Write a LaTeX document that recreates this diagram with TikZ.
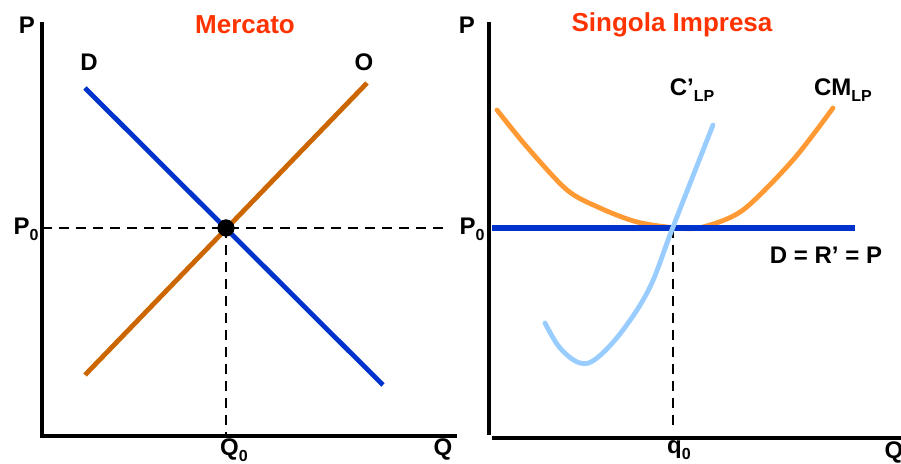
\documentclass[tikz,border=0pt]{standalone}
\usepackage{fontspec}
\setmainfont{Liberation Sans}
\definecolor{titlered}{RGB}{255,51,0}
\definecolor{dblue}{RGB}{0,51,204}
\definecolor{obrown}{RGB}{204,102,0}
\definecolor{cmorange}{RGB}{255,153,51}
\definecolor{mclight}{RGB}{153,204,255}
\newcommand{\lowsub}[1]{\raisebox{-0.45ex}{\fontsize{8}{8}\selectfont #1}}
\begin{document}
\begin{tikzpicture}[
    x=0.5pt, y=-0.5pt,
    axis/.style={line width=1.7pt},
    guide/.style={line width=1.4pt, dash pattern=on 5pt off 3.5pt},
    curve/.style={line width=2.4pt},
    lbl/.style={font=\fontsize{12}{14}\selectfont\bfseries, inner sep=0pt},
    title/.style={font=\fontsize{13}{15}\selectfont\bfseries, text=titlered, inner sep=0pt},
    dot/.style={circle, fill=black, minimum size=8.5pt, inner sep=0pt}
]
\useasboundingbox (0,0) rectangle (901,464);

% ---- mercato ----
\coordinate (ltop) at (42,22);
\coordinate (lorig) at (42,436);
\coordinate (lend) at (457,436);
\coordinate (dstart) at (85,88);
\coordinate (dend) at (383,385);
\coordinate (ostart) at (85,375);
\coordinate (oend) at (367,83);
\coordinate (pzl) at (42,228);
\coordinate (pzr) at (443,228);
\coordinate (qz) at (226,436);
\node[dot] (eq) at (226,228) {};

\node[lbl] (lp) at (27,25) {P};
\node[title] (mercato) at (245,25) {Mercato};
\node[lbl] (dlbl) at (89,62) {D};
\node[lbl] (olbl) at (364,62) {O};
\node[lbl] (lp0) at (26,229) {P\lowsub{0}};
\node[lbl] (lq0) at (234,450) {Q\lowsub{0}};
\node[lbl] (lq) at (443,449) {Q};

\draw[guide] (pzl) -- (pzr);
\draw[guide] (eq.center) -- (qz);
\draw[curve, dblue] (dstart) -- (dend);
\draw[curve, obrown] (ostart) -- (oend);
\draw[axis] (ltop) -- (lorig) -- (lend);
\node[dot] at (eq) {};

% ---- singola impresa ----
\coordinate (rtop) at (489,22);
\coordinate (rbot) at (489,435);
\coordinate (rxs) at (492,438);
\coordinate (rxe) at (901,438);
\coordinate (hstart) at (492,228);
\coordinate (hend) at (855,228);
\coordinate (qtop) at (673,228);
\coordinate (qbot) at (673,428);

\node[lbl] (rp) at (467,25) {P};
\node[title] (impresa) at (672,25) {Singola Impresa};
\node[lbl] (cmarg) at (692,90) {C’\lowsub{LP}};
\node[lbl] (cmed) at (843,90) {CM\lowsub{LP}};
\node[lbl] (rp0) at (472,229) {P\lowsub{0}};
\node[lbl] (dlabel) at (826,255) {D = R’ = P};
\node[lbl] (rq0) at (679,450) {q\lowsub{0}};
\node[lbl] (rq) at (894,452) {Q};

\draw[guide] (qtop) -- (qbot);
\draw[curve, cmorange, line cap=round] plot[smooth, tension=0.5] coordinates {
    (497,110) (527,147) (567,190) (600,208) (637,222) (677,228) (703,227)
    (743,210) (793,160) (833,108)};
\draw[line width=2.9pt, dblue] (hstart) -- (hend);
\draw[curve, mclight, line cap=round] plot[smooth, tension=0.6] coordinates {
    (545,323) (560,348) (580,363) (597,358) (623,330) (650,287) (673,227) (713,125)};
\draw[axis] (rtop) -- (rbot);
\draw[axis] (rxs) -- (rxe);

\end{tikzpicture}
\end{document}
